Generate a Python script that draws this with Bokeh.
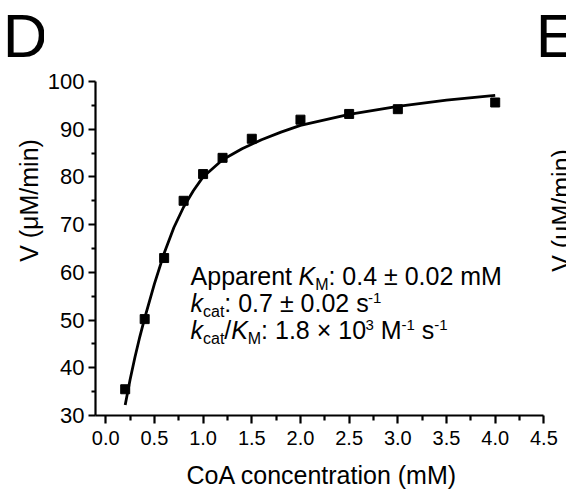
import math
from bokeh.plotting import figure
from bokeh.layouts import column, row
from bokeh.models import Range1d, FixedTicker, Label
from bokeh.embed import file_html
from bokeh.resources import INLINE

# ---- data ----
conc_mM = [0.2, 0.4, 0.6, 0.8, 1.0, 1.2, 1.5, 2.0, 2.5, 3.0, 4.0]
rate = [35.5, 50.2, 63.0, 75.0, 80.6, 84.0, 88.0, 92.0, 93.2, 94.2, 95.6]

fit_conc = [0.2, 0.25, 0.3, 0.35, 0.4, 0.5, 0.6, 0.7, 0.8, 0.9, 1.0,
            1.2, 1.4, 1.6, 1.8, 2.0, 2.5, 3.0, 3.5, 4.0]
fit_rate = [32.2, 37.5, 42.2, 46.5, 50.4, 57.6, 64.0, 69.4, 73.7, 77.1, 80.0,
            83.6, 85.9, 87.8, 89.4, 90.8, 93.1, 94.8, 96.1, 97.1]

x_ticks = [0.0, 0.5, 1.0, 1.5, 2.0, 2.5, 3.0, 3.5, 4.0, 4.5]
x_tick_labels = ["0.0", "0.5", "1.0", "1.5", "2.0", "2.5", "3.0", "3.5", "4.0", "4.5"]
y_ticks = [30, 40, 50, 60, 70, 80, 90, 100]
y_tick_labels = ["30", "40", "50", "60", "70", "80", "90", "100"]

x_label = "CoA concentration (mM)"
y_label = "V (\u03bcM/min)"
panel_label = "D"
next_panel_label = "E"

FONT = "Liberation Sans"
BASE_FIX = 0.39   # em offset of Bokeh's alphabetic baseline placement

# ---- layout geometry (page pixels) ----
X_AX_START, X_AX_END = -0.105, 4.5
Y_AX_START, Y_AX_END = 30, 100
FRAME_LEFT, FRAME_BOTTOM = 93.0, 415.0
SX = 450.3 / (X_AX_END - X_AX_START)      # px per x unit
SY = 334.0 / (Y_AX_END - Y_AX_START)      # px per y unit
TOTAL_W, TOTAL_H = 566, 493
LEFT_W = 44
MAIN_H = 455

x_end = X_AX_START + (TOTAL_W - FRAME_LEFT) / SX
y_end = Y_AX_START + FRAME_BOTTOM / SY

def mx(X):
    return X_AX_START + (X - FRAME_LEFT) / SX

def my(Y):
    return Y_AX_START + (FRAME_BOTTOM - Y) / SY

def blank(w, h):
    f = figure(width=w, height=h, x_range=Range1d(0, w), y_range=Range1d(0, h),
               output_backend="svg", toolbar_location=None, min_border=0,
               x_axis_location=None, y_axis_location=None)
    f.frame_align = False
    f.grid.visible = False
    f.outline_line_color = None
    f.background_fill_color = "white"
    f.border_fill_color = "white"
    return f

def strip_label(f, x0, y0, X, Y, text, size, angle=0.0, align="left"):
    # X, Y: page position of the text baseline anchor; (x0, y0): strip's page origin
    if angle:
        X = X - BASE_FIX * size
    else:
        Y = Y - BASE_FIX * size
    f.add_layout(Label(x=X - x0, y=f.height - (Y - y0), text=text,
                       text_font=FONT, text_font_size=f"{size}px",
                       text_color="black", text_align=align,
                       text_baseline="alphabetic", angle=angle))

# ---- left strip: panel letter and y-axis title ----
left = blank(LEFT_W, MAIN_H)
strip_label(left, 0, 0, 2.3, 59.6, panel_label, 62)
strip_label(left, 0, 0, 38, 200, y_label, 25, angle=math.pi / 2, align="center")

# ---- bottom strip: x-axis title ----
bottom = blank(TOTAL_W, TOTAL_H - MAIN_H)
strip_label(bottom, 0, MAIN_H, 321.5, 484, x_label, 25, align="center")

# ---- main chart ----
p = figure(width=TOTAL_W - LEFT_W, height=MAIN_H,
           x_range=Range1d(X_AX_START, x_end), y_range=Range1d(Y_AX_START, y_end),
           output_backend="svg", toolbar_location=None,
           min_border_left=int(FRAME_LEFT - LEFT_W), min_border_right=0,
           min_border_top=0, min_border_bottom=int(MAIN_H - FRAME_BOTTOM))
p.frame_align = False
p.title.visible = False
p.xgrid.visible = False
p.ygrid.visible = False
p.outline_line_color = None
p.background_fill_color = "white"
p.border_fill_color = "white"

xminor = [(a + b) / 2 for a, b in zip(x_ticks[:-1], x_ticks[1:])]
yminor = [(a + b) / 2 for a, b in zip(y_ticks[:-1], y_ticks[1:])]
p.xaxis.ticker = FixedTicker(ticks=x_ticks, minor_ticks=xminor)
p.yaxis.ticker = FixedTicker(ticks=y_ticks, minor_ticks=yminor)
p.xaxis.major_label_overrides = {t: l for t, l in zip(x_ticks, x_tick_labels)}
p.yaxis.major_label_overrides = {t: l for t, l in zip(y_ticks, y_tick_labels)}
p.xaxis.bounds = (X_AX_START, X_AX_END)
p.yaxis.bounds = (Y_AX_START, Y_AX_END)

for ax in (p.xaxis, p.yaxis):
    ax.axis_line_width = 2.2
    ax.axis_line_color = "black"
    ax.major_tick_line_width = 2.2
    ax.minor_tick_line_width = 2.2
    ax.major_tick_line_color = "black"
    ax.minor_tick_line_color = "black"
    ax.major_tick_in = 0
    ax.minor_tick_in = 0
    ax.major_label_text_font = FONT
    ax.major_label_text_color = "black"
p.xaxis.major_label_text_font_size = "20px"
p.yaxis.major_label_text_font_size = "22px"
p.xaxis.major_tick_out = 8
p.xaxis.minor_tick_out = 5
p.yaxis.major_tick_out = 7
p.yaxis.minor_tick_out = 4
p.xaxis.major_label_standoff = 7
p.yaxis.major_label_standoff = 4

p.line(fit_conc, fit_rate, line_width=2.8, color="black")
p.scatter(conc_mM, rate, marker="square", size=9, color="black")

def add_label(X, Y, text, size, style="normal", angle=0.0, align="left"):
    if angle:
        X = X - BASE_FIX * size
    else:
        Y = Y - BASE_FIX * size
    p.add_layout(Label(x=mx(X), y=my(Y), text=text, text_font=FONT,
                       text_font_size=f"{size}px", text_font_style=style,
                       text_color="black", text_align=align,
                       text_baseline="alphabetic", angle=angle))

# neighbouring panel fragments, cut by the right edge
add_label(535, 59.6, next_panel_label, 62)
add_label(570, 210, y_label, 25, angle=math.pi / 2, align="center")

# annotation with sub/superscripts (Arial-metric advance widths)
W = {' ': 278, 'A': 667, 'p': 556, 'a': 556, 'r': 333, 'e': 556, 'n': 556,
     't': 278, 'K': 667, 'M': 833, ':': 278, '.': 278, '\u00b1': 549,
     'm': 833, 'k': 500, 'c': 500, 's': 500, '-': 333, '/': 278,
     '\u00d7': 584}
for d in "0123456789":
    W[d] = 556

MAIN, SUB, SUP = 25, 16, 15
SUB_SHIFT, SUP_SHIFT = 5, -9

def run_width(text, size):
    return sum(W.get(ch, 556) for ch in text) * size / 1000.0

lines = [
    [("Apparent ", "n"), ("K", "i"), ("M", "sub"), (": 0.4 \u00b1 0.02 mM", "n")],
    [("k", "i"), ("cat", "sub"), (": 0.7 \u00b1 0.02 s", "n"), ("-1", "sup")],
    [("k", "i"), ("cat", "sub"), ("/", "n"), ("K", "i"), ("M", "sub"),
     (": 1.8 \u00d7 10", "n"), ("3", "sup"), (" M", "n"), ("-1", "sup"),
     (" s", "n"), ("-1", "sup")],
]
baselines = [285, 312, 339]
x_start = 188.5
for pieces, base in zip(lines, baselines):
    X = x_start
    for text, kind in pieces:
        size = {"n": MAIN, "i": MAIN, "sub": SUB, "sup": SUP}[kind]
        shift = {"n": 0, "i": 0, "sub": SUB_SHIFT, "sup": SUP_SHIFT}[kind]
        lead = len(text) - len(text.lstrip(" "))
        X += run_width(" " * lead, size)
        body = text.strip(" ")
        add_label(X, base + shift, body, size,
                  style="italic" if kind == "i" else "normal")
        X += run_width(text[lead:], size)

layout = column(row(left, p), bottom)
open("out.html", "w").write(file_html(layout, INLINE))
